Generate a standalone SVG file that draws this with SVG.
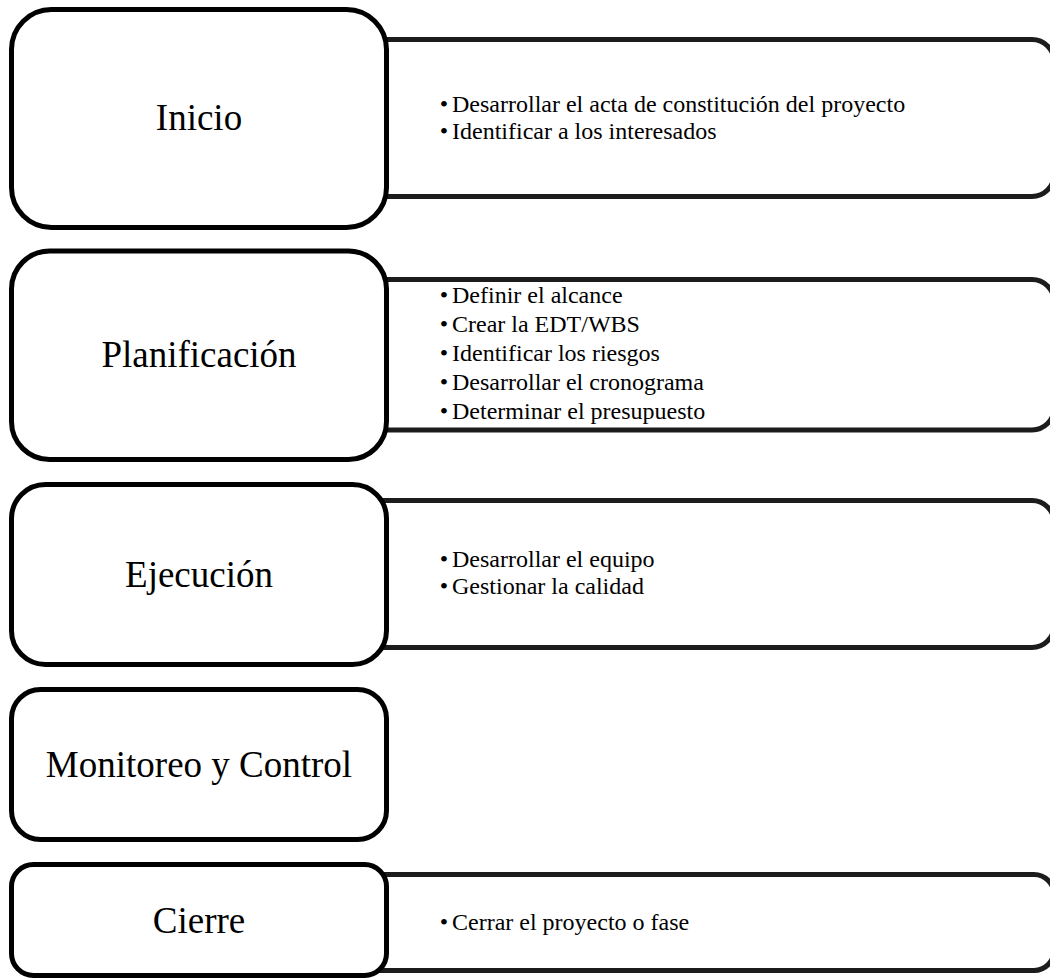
<svg xmlns="http://www.w3.org/2000/svg" width="1050" height="979" viewBox="0 0 1050 979">
  <style>
    .phase { fill: #ffffff; stroke: #000000; stroke-width: 5; }
    .panel { fill: #ffffff; stroke: #1c1c1c; stroke-width: 5; }
    .title { font-family: "Liberation Serif", "Times New Roman", serif; font-size: 37px; fill: #000000; text-anchor: middle; }
    .item { font-family: "Liberation Serif", "Times New Roman", serif; font-size: 24px; fill: #000000; }
    .dot { font-family: "Liberation Serif", "Times New Roman", serif; font-size: 24px; fill: #000000; text-anchor: middle; }
  </style>
  <rect width="1050" height="979" fill="#ffffff"/>

  <!-- Inicio -->
  <g id="inicio">
    <path class="panel" d="M380 39.5 H1032 A22 22 0 0 1 1054 61.5 V174.5 A22 22 0 0 1 1032 196.5 H380 Z"/>
    <rect class="phase" x="11.5" y="9.5" width="375" height="218" rx="40" ry="40"/>
    <text class="title" x="199" y="130">Inicio</text>
    <text class="dot" x="444" y="112">•</text>
    <text class="item" x="452" y="112">Desarrollar el acta de constitución del proyecto</text>
    <text class="dot" x="444" y="139">•</text>
    <text class="item" x="452" y="139">Identificar a los interesados</text>
  </g>

  <!-- Planificación -->
  <g id="planificacion">
    <path class="panel" d="M380 279.5 H1032 A22 22 0 0 1 1054 301.5 V408 A22 22 0 0 1 1032 430 H380 Z"/>
    <rect class="phase" x="11.5" y="251" width="375" height="208.5" rx="38" ry="38"/>
    <text class="title" x="199" y="367">Planificación</text>
    <text class="dot" x="444" y="303">•</text>
    <text class="item" x="452" y="303">Definir el alcance</text>
    <text class="dot" x="444" y="332">•</text>
    <text class="item" x="452" y="332">Crear la EDT/WBS</text>
    <text class="dot" x="444" y="361">•</text>
    <text class="item" x="452" y="361">Identificar los riesgos</text>
    <text class="dot" x="444" y="390">•</text>
    <text class="item" x="452" y="390">Desarrollar el cronograma</text>
    <text class="dot" x="444" y="419">•</text>
    <text class="item" x="452" y="419">Determinar el presupuesto</text>
  </g>

  <!-- Ejecución -->
  <g id="ejecucion">
    <path class="panel" d="M380 500.5 H1032 A22 22 0 0 1 1054 522.5 V625.5 A22 22 0 0 1 1032 647.5 H380 Z"/>
    <rect class="phase" x="11.5" y="484.5" width="375" height="180" rx="34" ry="34"/>
    <text class="title" x="199" y="587">Ejecución</text>
    <text class="dot" x="444" y="567">•</text>
    <text class="item" x="452" y="567">Desarrollar el equipo</text>
    <text class="dot" x="444" y="594">•</text>
    <text class="item" x="452" y="594">Gestionar la calidad</text>
  </g>

  <!-- Monitoreo y Control -->
  <g id="monitoreo">
    <rect class="phase" x="11.5" y="689.5" width="375" height="150" rx="29" ry="29"/>
    <text class="title" x="199" y="777">Monitoreo y Control</text>
  </g>

  <!-- Cierre -->
  <g id="cierre">
    <path class="panel" d="M380 874.5 H1034 A20 20 0 0 1 1054 894.5 V950.5 A20 20 0 0 1 1034 970.5 H380 Z"/>
    <rect class="phase" x="11.5" y="864.5" width="375" height="111" rx="22" ry="22"/>
    <text class="title" x="199" y="933">Cierre</text>
    <text class="dot" x="444" y="930">•</text>
    <text class="item" x="452" y="930">Cerrar el proyecto o fase</text>
  </g>

  <g id="connectors"/>
</svg>
